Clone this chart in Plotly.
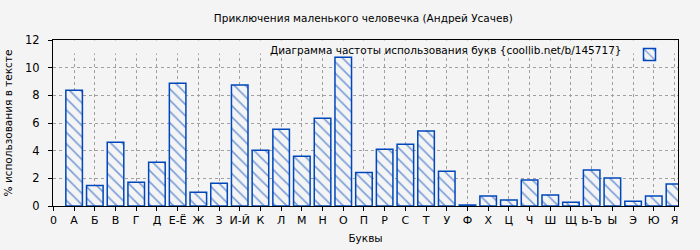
import plotly.graph_objects as go

letters = ["А", "Б", "В", "Г", "Д", "Е-Ё", "Ж", "З", "И-Й", "К", "Л", "М", "Н", "О", "П",
           "Р", "С", "Т", "У", "Ф", "Х", "Ц", "Ч", "Ш", "Щ", "Ь-Ъ", "Ы", "Э", "Ю", "Я"]
percent = [8.37, 1.49, 4.6, 1.71, 3.16, 8.87, 0.99, 1.64, 8.75, 4.03, 5.54, 3.59, 6.34, 10.75, 2.43,
           4.1, 4.46, 5.42, 2.51, 0.07, 0.72, 0.43, 1.88, 0.8, 0.27, 2.6, 2.02, 0.34, 0.72, 1.59]
tick_labels = ["0"] + letters
positions = list(range(1, len(letters) + 1))

title_text = "Приключения маленького человечка (Андрей Усачев)"
legend_text = "Диаграмма частоты использования букв {coollib.net/b/145717}"
x_title = "Буквы"
y_title = "% использования в тексте"

BLUE = "#0047bb"
BG = "#f4f4f4"
FONT = "DejaVu Sans"

fig = go.Figure()
fig.add_trace(go.Bar(
    x=positions, y=percent, width=0.8, name=" ",
    marker=dict(color=BG, line=dict(color=BLUE, width=1.5),
                pattern=dict(shape="\\", fgcolor=BLUE, bgcolor=BG, size=8, solidity=0.2)),
    showlegend=True,
))

fig.update_layout(
    width=700, height=250,
    paper_bgcolor=BG, plot_bgcolor=BG,
    margin=dict(l=53, r=22, t=40, b=44),
    font=dict(family=FONT, size=11, color="#000"),
    title=dict(text=title_text, x=0.519, xanchor="center", y=0.925, yanchor="middle",
               font=dict(size=10.5)),
    showlegend=True,
    legend=dict(x=1.0, xanchor="right", y=1.0, yanchor="top", bgcolor="rgba(0,0,0,0)",
                title=dict(text=legend_text, side="left", font=dict(size=10.5)),
                font=dict(size=11), itemwidth=30, tracegroupgap=0),
    xaxis=dict(range=[-0.02, 30.17], tickmode="array", tickvals=list(range(0, 31)),
               ticktext=tick_labels, showgrid=True, gridcolor="#a0a0a0", griddash="dot",
               gridwidth=1, showline=True, linecolor="black", linewidth=1, mirror=True,
               ticks="outside", ticklen=4, tickcolor="black", zeroline=False,
               tickfont=dict(size=11), automargin=False,
               title=dict(text=x_title, standoff=8, font=dict(size=10.5))),
    yaxis=dict(range=[0, 12], tickvals=[0, 2, 4, 6, 8, 10, 12], showgrid=True,
               gridcolor="#a0a0a0", griddash="dot", gridwidth=1, showline=True,
               linecolor="black", linewidth=1, mirror=True, ticks="outside", ticklen=4,
               tickcolor="black", zeroline=False, ticklabelstandoff=6,
               tickfont=dict(size=11.5), automargin=False,
               title=dict(text=y_title, standoff=10, font=dict(size=10.5))),
    shapes=[dict(type="rect", xref="x domain", yref="y domain", x0=0.001, x1=0.999,
                 y0=0.919, y1=0.997, fillcolor=BG, line=dict(width=0), layer="above")],
)

fig.write_html("out.html")
